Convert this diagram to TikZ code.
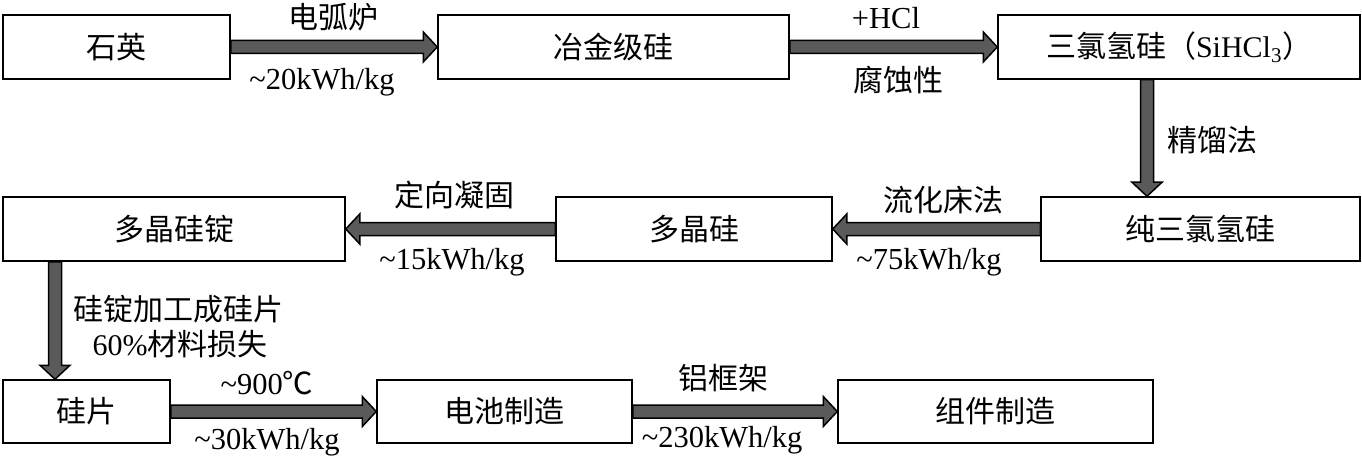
\documentclass[tikz,border=0pt]{standalone}
\usepackage{fontspec}
\setmainfont{Liberation Serif}
\newfontfamily\cjk{Noto Sans CJK SC}
\usetikzlibrary{calc}
\definecolor{arrowgray}{HTML}{5A5A5A}
\tikzset{
  box/.style={draw=black, line width=1.5pt, fill=white, minimum height=64pt,
    inner sep=0pt, font=\fontsize{30}{35}\selectfont\cjk},
  lbl/.style={inner sep=0pt, font=\fontsize{30}{35}\selectfont\cjk},
  num/.style={inner sep=0pt, font=\fontsize{30.5}{35}\selectfont\rmfamily},
  barrowstyle/.style={fill=arrowgray, draw=black, line width=1.5pt, line join=miter},
}
\newcommand{\blockarr}[2]{%
  \coordinate (tmpb) at ($(#2)!14pt!(#1)$);
  \filldraw[barrowstyle] ($(#1)!6.5pt!90:(#2)$) -- ($(tmpb)!6.5pt!90:(#2)$)
    -- ($(tmpb)!15pt!90:(#2)$) -- (#2) -- ($(tmpb)!15pt!-90:(#2)$)
    -- ($(tmpb)!6.5pt!-90:(#2)$) -- ($(#1)!6.5pt!-90:(#2)$) -- cycle;
}
\begin{document}
\begin{tikzpicture}[x=1pt, y=-1pt]
\useasboundingbox (0,0) rectangle (1362,457);
% boxes
\node[box, minimum width=227pt] (quartz) at (116.5,47) {石英};
\node[box, minimum width=351pt] (mg) at (613.5,47) {冶金级硅};
\node[box, minimum width=362pt] (tcs) at (1179,47) {三氯氢硅（\rmfamily SiHCl\textsubscript{3}\cjk ）};
\node[box, minimum width=319pt] (pure) at (1200.5,229) {纯三氯氢硅};
\node[box, minimum width=276pt] (poly) at (694,229) {多晶硅};
\node[box, minimum width=342pt] (ingot) at (174,229) {多晶硅锭};
\node[box, minimum width=167pt, minimum height=63pt] (wafer) at (86.5,411.5) {硅片};
\node[box, minimum width=255pt, minimum height=63pt] (cell) at (504.5,411.5) {电池制造};
\node[box, minimum width=315pt, minimum height=63pt] (module) at (995.5,411.5) {组件制造};
% vertical arrow end points
\coordinate (v1s) at (tcs.south -| 1147,0);
\coordinate (v1e) at (pure.north -| 1147,0);
\coordinate (v2s) at (ingot.south -| 55,0);
\coordinate (v2e) at (wafer.north -| 55,0);
% arrows
\blockarr{quartz.east}{mg.west}
\blockarr{mg.east}{tcs.west}
\blockarr{v1s}{v1e}
\blockarr{pure.west}{poly.east}
\blockarr{poly.west}{ingot.east}
\blockarr{v2s}{v2e}
\blockarr{wafer.east}{cell.west}
\blockarr{cell.east}{module.west}
% labels
\node[lbl] (l1a) at (333,17) {电弧炉};
\node[num] (l1b) at (322,82) {\textasciitilde 20kWh/kg};
\node[num] (l2a) at (886,18) {+HCl};
\node[lbl] (l2b) at (898,80) {腐蚀性};
\node[lbl] (l3) at (1212,140) {精馏法};
\node[lbl] (l4a) at (943,200) {流化床法};
\node[num] (l4b) at (929,262) {\textasciitilde 75kWh/kg};
\node[lbl] (l5a) at (454,195) {定向凝固};
\node[num] (l5b) at (452,262) {\textasciitilde 15kWh/kg};
\node[lbl] (l6a) at (178,309) {硅锭加工成硅片};
\node[lbl] (l6b) at (180,344) {\rmfamily 60\%\cjk 材料损失};
\node[num] (l7a) at (267,383) {\textasciitilde 900{\cjk ℃}};
\node[num] (l7b) at (267,442) {\textasciitilde 30kWh/kg};
\node[lbl] (l8a) at (723,378) {铝框架};
\node[num] (l8b) at (722,440) {\textasciitilde 230kWh/kg};
\end{tikzpicture}
\end{document}
